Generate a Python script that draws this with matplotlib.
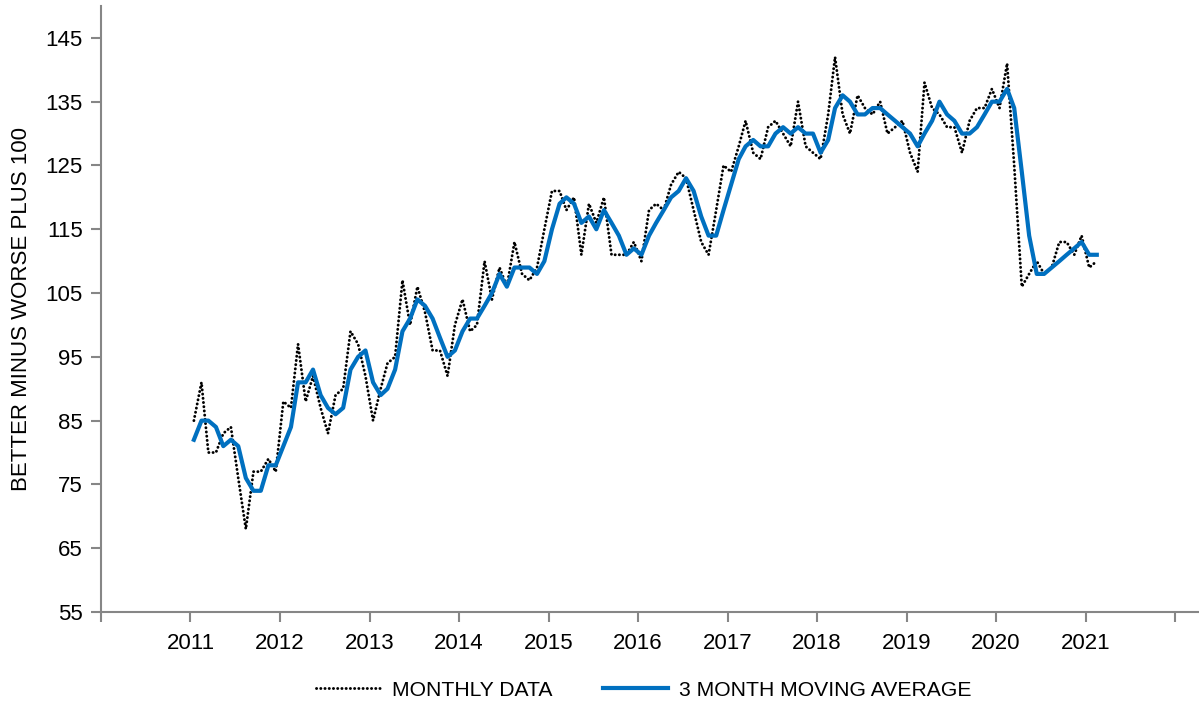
import matplotlib
matplotlib.use("Agg")
import matplotlib.pyplot as plt
import pandas as pd

plt.rcParams['font.family'] = ['Liberation Sans', 'DejaVu Sans']

# Monthly series, Jan 2011 .. Feb 2021
start_month = "2011-01"
monthly_data = [
    85, 91, 80, 80, 83, 84, 76, 68, 77, 77, 79, 77,          # 2011
    88, 87, 97, 88, 92, 87, 83, 89, 90, 99, 97, 92,          # 2012
    85, 90, 94, 95, 107, 100, 106, 102, 96, 96, 92, 100,     # 2013
    104, 99, 100, 110, 104, 109, 106, 113, 108, 107, 109, 115,  # 2014
    121, 121, 118, 120, 111, 119, 116, 120, 111, 111, 111, 113,  # 2015
    110, 118, 119, 118, 122, 124, 123, 118, 113, 111, 118, 125,  # 2016
    124, 128, 132, 127, 126, 131, 132, 130, 128, 135, 128, 127,  # 2017
    126, 133, 142, 133, 130, 136, 134, 133, 135, 130, 131, 132,  # 2018
    127, 124, 138, 134, 133, 131, 131, 127, 132, 134, 134, 137,  # 2019
    134, 141, 125, 106, 108, 110, 108, 109, 113, 113, 111, 114,  # 2020
    109, 110,                                                # 2021
]
moving_average = [
    82, 85, 85, 84, 81, 82, 81, 76, 74, 74, 78, 78,
    81, 84, 91, 91, 93, 89, 87, 86, 87, 93, 95, 96,
    91, 89, 90, 93, 99, 101, 104, 103, 101, 98, 95, 96,
    99, 101, 101, 103, 105, 108, 106, 109, 109, 109, 108, 110,
    115, 119, 120, 119, 116, 117, 115, 118, 116, 114, 111, 112,
    111, 114, 116, 118, 120, 121, 123, 121, 117, 114, 114, 118,
    122, 126, 128, 129, 128, 128, 130, 131, 130, 131, 130, 130,
    127, 129, 134, 136, 135, 133, 133, 134, 134, 133, 132, 131,
    130, 128, 130, 132, 135, 133, 132, 130, 130, 131, 133, 135,
    135, 137, 134, 124, 114, 108, 108, 109, 110, 111, 112, 113,
    111, 111,
]
series_labels = ["MONTHLY DATA", "3 MONTH MOVING AVERAGE"]
year_ticks = list(range(2010, 2023))
year_labels = ["" if y in (2010, 2022) else str(y) for y in year_ticks]
y_ticks = list(range(55, 150, 10))
y_label = "BETTER MINUS WORSE PLUS 100"

dates = pd.date_range(start_month, periods=len(monthly_data), freq="MS") + pd.Timedelta(days=14)

fig = plt.figure(figsize=(11.99, 7.07), dpi=100)
ax = fig.add_axes([101 / 1199, 95 / 707, 1098 / 1199, 606 / 707])

gray = "#868686"
ax.plot(dates, monthly_data, color="black", lw=2.1, linestyle=(0, (0.05, 1.4)),
        dash_capstyle="round", label=series_labels[0])
ax.plot(dates, moving_average, color="#0070C0", lw=3.0, solid_joinstyle="round",
        label=series_labels[1])

ax.set_ylim(55, 150)
ax.set_yticks(y_ticks)
ax.set_xlim(pd.Timestamp("2010-01-01"), pd.Timestamp("2022-04-08"))
ax.set_xticks([pd.Timestamp(f"{y}-01-01") for y in year_ticks])
ax.set_xticklabels(year_labels)

for s in ["top", "right"]:
    ax.spines[s].set_visible(False)
for s in ["left", "bottom"]:
    ax.spines[s].set_color(gray)
    ax.spines[s].set_linewidth(1.5)
ax.tick_params(axis="both", colors=gray, labelcolor="black", labelsize=16,
               width=1.5, length=7, direction="out")
ax.tick_params(axis="y", pad=6)
ax.tick_params(axis="x", pad=8)

ax.set_ylabel(y_label, fontsize=16, labelpad=10)

leg = ax.legend(loc="center", bbox_to_anchor=(643.5 / 1199, 1 - 690 / 707),
                bbox_transform=fig.transFigure, ncol=2, frameon=False,
                fontsize=15.2, handlelength=3.1, handletextpad=0.5, columnspacing=2.4)

fig.savefig("out.png", dpi=100)
